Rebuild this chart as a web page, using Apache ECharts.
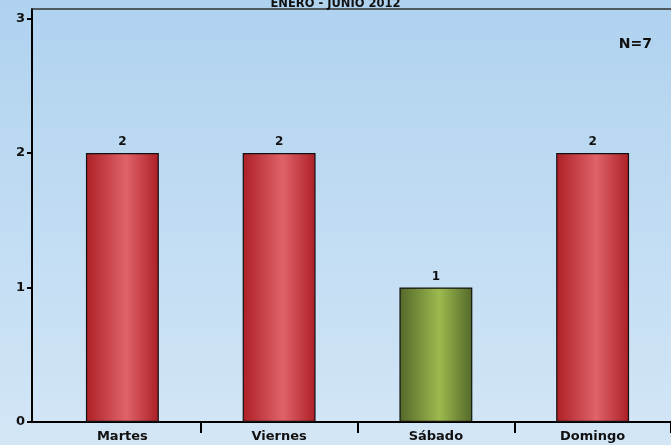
<!DOCTYPE html>
<html><head><meta charset="utf-8">
<script src="https://cdn.jsdelivr.net/npm/echarts@6/dist/echarts.min.js"></script>
<style>html,body{margin:0;padding:0;}#c{width:671px;height:445px;}</style>
</head><body><div id="c"></div>
<script>
const title = 'ENERO - JUNIO 2012';
const note = 'N=7';
const categories = ['Martes', 'Viernes', 'Sábado', 'Domingo'];
const values = [2, 2, 1, 2];
const yMin = 0, yMax = 3, yStep = 1;

const font = 'DejaVu Sans';
const red = {type:'linear',x:0,y:0,x2:1,y2:0,colorStops:[
  {offset:0,color:'#ad1f26'},{offset:0.55,color:'#e0636a'},{offset:1,color:'#ad1f26'}]};
const green = {type:'linear',x:0,y:0,x2:1,y2:0,colorStops:[
  {offset:0,color:'#53682a'},{offset:0.55,color:'#9dba4e'},{offset:1,color:'#53682a'}]};
const specialColors = {'Sábado': green};

const chart = echarts.init(document.getElementById('c'));
const hiddenVal = (g) => ({gridIndex:g,type:'value',min:0,max:1,show:false});
chart.setOption({
  backgroundColor: {type:'linear',x:0,y:0,x2:0,y2:1,colorStops:[
    {offset:0,color:'#afd2ef'},{offset:1,color:'#d3e6f6'}]},
  animation:false,
  title:{text:title,left:'center',top:-7,textStyle:{fontFamily:font,fontSize:11.5,fontWeight:'bold',color:'#111'}},
  graphic:[{type:'text',right:19,top:37,style:{text:note,font:'bold 14px "DejaVu Sans"',fill:'#111'}}],
  grid:[
    {left:32,right:0,top:9,bottom:23},
    {left:32,right:0,top:18.5,bottom:23},
    {left:44,right:-1,top:18.5,bottom:23}
  ],
  xAxis:[
    {gridIndex:0,type:'value',min:0,max:1,position:'bottom',axisLine:{show:true,onZero:false,lineStyle:{color:'#000',width:2}},axisTick:{show:false},axisLabel:{show:false},splitLine:{show:false}},
    {gridIndex:0,type:'value',min:0,max:1,position:'top',axisLine:{show:true,onZero:false,lineStyle:{color:'#333',width:1.5}},axisTick:{show:false},axisLabel:{show:false},splitLine:{show:false}},
    hiddenVal(1),
    {gridIndex:2,type:'category',data:categories,axisLine:{show:false},
      axisTick:{show:true,interval:(i)=>i!==0,length:11,lineStyle:{color:'#000',width:2}},
      axisLabel:{margin:8,fontFamily:font,fontSize:13,fontWeight:'bold',color:'#111',interval:0}}
  ],
  yAxis:[
    {gridIndex:0,type:'value',min:0,max:1,axisLine:{show:true,onZero:false,lineStyle:{color:'#000',width:2}},axisTick:{show:false},axisLabel:{show:false},splitLine:{show:false}},
    {gridIndex:1,type:'value',min:yMin,max:yMax,interval:yStep,
      axisLine:{show:false},
      axisTick:{show:true,length:5,lineStyle:{color:'#000',width:2}},
      axisLabel:{margin:7,fontFamily:font,fontSize:13,fontWeight:'bold',color:'#111'},
      splitLine:{show:false}},
    {gridIndex:2,type:'value',min:yMin,max:yMax,show:false,splitLine:{show:false}}
  ],
  series:[{
    type:'bar',xAxisIndex:3,yAxisIndex:2,data:values,barWidth:'46.5%',
    itemStyle:{borderColor:'#111',borderWidth:1.2,
      color:p=>specialColors[categories[p.dataIndex]]||red},
    label:{show:true,position:'top',distance:5,fontFamily:font,fontSize:12,fontWeight:'bold',color:'#111'}
  }]
});
</script></body></html>
